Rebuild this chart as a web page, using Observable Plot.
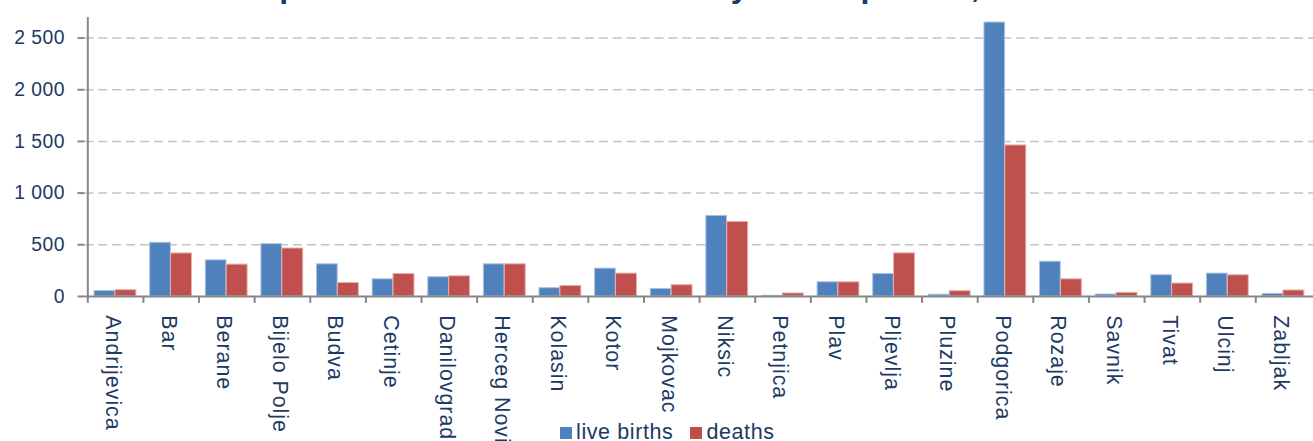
<!DOCTYPE html>
<html>
<head>
<meta charset="utf-8">
<script src="https://cdn.jsdelivr.net/npm/d3@7"></script>
<script src="https://cdn.jsdelivr.net/npm/@observablehq/plot@0.6"></script>
<style>
  html, body { margin: 0; padding: 0; background: #fff; overflow: hidden; }
  #wrap { position: relative; width: 1313px; height: 441px; overflow: hidden; font-family: "Liberation Sans", Arial, sans-serif; }
  #title { position: absolute; top: -30px; left: 224px; white-space: nowrap; font: bold 32px/32px "Liberation Sans", Arial, sans-serif; color: #1c3a63; }
  #chart { position: absolute; left: 0; top: 0; }
  #chart svg { overflow: visible; }
  g[aria-label="x-axis tick label"] text { letter-spacing: 1px; }
  g[aria-label="y-axis tick label"] text { letter-spacing: 0.5px; }
  #legend { position: absolute; top: 420px; left: 560px; display: flex; align-items: center; font-size: 21.5px; letter-spacing: 0.6px; color: #1c3a63; white-space: nowrap; }
  .sw { display: inline-block; width: 12px; height: 12px; margin-right: 4px; margin-top: 1px; }
</style>
</head>
<body>
<div id="wrap">
  <div id="title">Graph 1. Live births and deaths by municipalities, 2011</div>
  <div id="chart"></div>
  <div id="legend"></div>
</div>
<script>
const categories = ["Andrijevica","Bar","Berane","Bijelo Polje","Budva","Cetinje","Danilovgrad","Herceg Novi","Kolasin","Kotor","Mojkovac","Niksic","Petnjica","Plav","Pljevlja","Pluzine","Podgorica","Rozaje","Savnik","Tivat","Ulcinj","Zabljak"];
const liveBirths = [52, 519, 349, 506, 311, 166, 186, 311, 80, 269, 73, 779, 6, 137, 217, 17, 2650, 336, 19, 205, 221, 25];
const deaths = [61, 416, 308, 464, 131, 217, 195, 311, 102, 221, 109, 721, 29, 137, 417, 51, 1461, 166, 35, 125, 205, 58];
const seriesNames = ["live births", "deaths"];
const seriesColors = ["#4f81bd", "#c0504d"];
const yTicks = [0, 500, 1000, 1500, 2000, 2500];

const rows = categories.map((c, i) => ({municipality: c, births: liveBirths[i], deaths: deaths[i]}));
const navy = "#1c3a63";
const axisGray = "#868686";
const bw = (1321.4 - 85) / categories.length;

const chart = Plot.plot({
  width: 1322,
  height: 441,
  marginLeft: 85,
  marginRight: 0,
  marginTop: 17,
  marginBottom: 143,
  style: {fontFamily: '"Liberation Sans", Arial, sans-serif', color: navy, background: "transparent"},
  x: {type: "band", domain: categories, padding: 0, label: null},
  y: {domain: [0, 2700], label: null},
  marks: [
    Plot.ruleY(yTicks.filter(d => d > 0), {stroke: "#c3c3c3", strokeWidth: 1.5, strokeDasharray: "9,5"}),
    Plot.barY(rows, {x: "municipality", y: "births", fill: seriesColors[0], stroke: "#a9c1e0", strokeWidth: 1, insetLeft: 6.7, insetRight: bw - 27.7}),
    Plot.barY(rows, {x: "municipality", y: "deaths", fill: seriesColors[1], stroke: "#e4b0ae", strokeWidth: 1, insetLeft: 27.7, insetRight: bw - 49}),
    Plot.ruleY([0], {stroke: axisGray, strokeWidth: 2}),
    Plot.ruleX([categories[0]], {y1: 0, y2: 2700, dx: -bw / 2, stroke: axisGray, strokeWidth: 2}),
    Plot.axisX({tickSize: 7, fill: "none", stroke: axisGray, strokeWidth: 2, dx: -bw / 2}),
    Plot.axisX({tickSize: 0, tickPadding: 19, tickRotate: 90, fill: navy, fontSize: 21.5, dx: -3}),
    Plot.axisY({ticks: yTicks, tickSize: 7, tickPadding: 13, stroke: axisGray, strokeWidth: 2, fill: navy, fontSize: 19.5,
      tickFormat: d => d3.format(",")(d).replace(/,/g, "\u00a0")})
  ]
});
document.getElementById("chart").appendChild(chart);

const legend = document.getElementById("legend");
seriesNames.forEach((name, i) => {
  const item = document.createElement("span");
  item.style.display = "inline-flex";
  item.style.alignItems = "center";
  item.style.marginRight = i === 0 ? "17px" : "0";
  const sw = document.createElement("span");
  sw.className = "sw";
  sw.style.background = seriesColors[i];
  item.appendChild(sw);
  item.appendChild(document.createTextNode(name));
  legend.appendChild(item);
});
</script>
</body>
</html>
